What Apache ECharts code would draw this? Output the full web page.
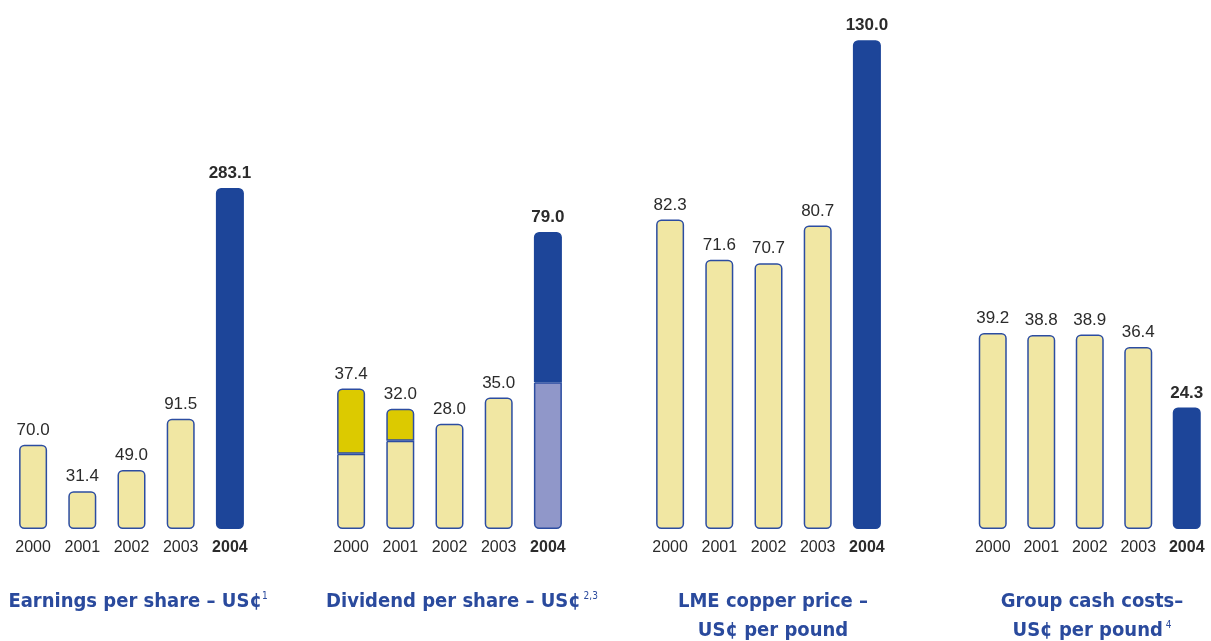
<!DOCTYPE html>
<html>
<head>
<meta charset="utf-8">
<script src="https://cdn.jsdelivr.net/npm/echarts@6/dist/echarts.min.js"></script>
<style>
html,body{margin:0;padding:0;background:#fff;}
#c{width:1211px;height:641px;}
</style>
</head>
<body>
<div id="c"></div>
<script>
// ---- data ----
const years = ['2000', '2001', '2002', '2003', '2004'];
const earnings = [70.0, 31.4, 49.0, 91.5, 283.1];
const dividendTotal = [37.4, 32.0, 28.0, 35.0, 79.0];
const dividendOrdinary = [20.0, 23.5, 28.0, 35.0, 39.0];
const dividendSpecial = [17.4, 8.5, 0, 0, 40.0];
const copperPrice = [82.3, 71.6, 70.7, 80.7, 130.0];
const cashCosts = [39.2, 38.8, 38.9, 36.4, 24.3];
const titles = [
  'Earnings per share – US¢{sup|1}',
  'Dividend per share – US¢{sup| 2,3}',
  'LME copper price –\nUS¢ per pound',
  'Group cash costs–\nUS¢ per pound{sup| 4}'
];

// ---- styles ----
const PALE = '#F1E7A3';
const DARK = '#1D4599';
const BORDER = '#2C4DA1';
const SPECIAL = '#DCCA00';
const LAVENDER = '#9097C9';
const TXT = '#2b2b2b';
const FONT = '"Liberation Sans", Arial, sans-serif';
const TFONT = '"Liberation Sans Narrow", "DejaVu Sans Condensed", "Liberation Sans", sans-serif';
const R = 4.5;

const chart = echarts.init(document.getElementById('c'), null, {renderer: 'canvas'});

const gridLefts = [8.5, 326.5, 645.5, 968.5];
const gridW = 246;
const gridTop = 40, gridH = 489;
const maxes = [gridH / 1.2045, gridH / 3.76, gridH / 3.76, gridH / 5.0];

const grids = gridLefts.map(l => ({left: l, top: gridTop, width: gridW, height: gridH}));
const xAxes = grids.map((g, i) => ({
  type: 'category', gridIndex: i,
  data: years.map(y => y === '2004' ? {value: y, textStyle: {fontWeight: 'bold'}} : y),
  axisLine: {show: false}, axisTick: {show: false},
  axisLabel: {color: TXT, fontSize: 16, fontFamily: FONT, margin: 11}
}));
const yAxes = grids.map((g, i) => ({
  type: 'value', gridIndex: i, min: 0, max: maxes[i], show: false, splitLine: {show: false}
}));

function simpleSeries(values, idx) {
  return {
    type: 'bar', xAxisIndex: idx, yAxisIndex: idx, barWidth: 28,
    data: values.map((v, i) => {
      const last = i === values.length - 1;
      return {
        value: v,
        itemStyle: {color: last ? DARK : PALE, borderColor: last ? DARK : BORDER, borderWidth: 1.5, borderRadius: R},
        label: {fontWeight: last ? 'bold' : 'normal'}
      };
    }),
    label: {show: true, position: 'top', distance: 6, color: TXT, fontSize: 17, fontFamily: FONT,
      formatter: p => p.value.toFixed(1)},
    animation: false
  };
}

const divBase = {
  type: 'bar', xAxisIndex: 1, yAxisIndex: 1, barWidth: 28, stack: 'div',
  data: dividendOrdinary.map((v, i) => {
    const last = i === 4;
    const hasTop = dividendSpecial[i] > 0;
    return {
      value: v,
      itemStyle: {color: last ? LAVENDER : PALE, borderColor: BORDER, borderWidth: 1.5,
        borderRadius: hasTop ? [0, 0, R, R] : R},
      label: {show: !hasTop, formatter: () => dividendTotal[i].toFixed(1)}
    };
  }),
  label: {position: 'top', distance: 6, color: TXT, fontSize: 17, fontFamily: FONT},
  animation: false
};
const divTop = {
  type: 'bar', xAxisIndex: 1, yAxisIndex: 1, barWidth: 28, stack: 'div',
  data: dividendSpecial.map((v, i) => {
    const last = i === 4;
    if (v <= 0) return {value: '-'};
    return {
      value: v,
      itemStyle: {color: last ? DARK : SPECIAL, borderColor: last ? DARK : BORDER, borderWidth: 1.5,
        borderRadius: [R, R, 0, 0]},
      label: {show: true, fontWeight: last ? 'bold' : 'normal', formatter: () => dividendTotal[i].toFixed(1)}
    };
  }),
  label: {position: 'top', distance: 6, color: TXT, fontSize: 17, fontFamily: FONT},
  animation: false
};

const titleCenters = [133, 457, 768, 1087];
const title = titles.map((t, i) => ({
  text: t, left: titleCenters[i], top: 582, textAlign: 'center',
  textStyle: {
    color: '#2A4A9D', fontSize: 20, fontWeight: 'bold', fontFamily: TFONT, lineHeight: 29,
    rich: {sup: {fontSize: 10, fontWeight: 'normal', color: '#2A4A9D', fontFamily: TFONT, verticalAlign: 'top', lineHeight: 14, padding: [4, 0, 0, 0]}}
  }
}));

chart.setOption({
  animation: false,
  title: title,
  grid: grids,
  xAxis: xAxes,
  yAxis: yAxes,
  series: [
    simpleSeries(earnings, 0),
    divBase, divTop,
    simpleSeries(copperPrice, 2),
    simpleSeries(cashCosts, 3)
  ]
});
</script>
</body>
</html>
